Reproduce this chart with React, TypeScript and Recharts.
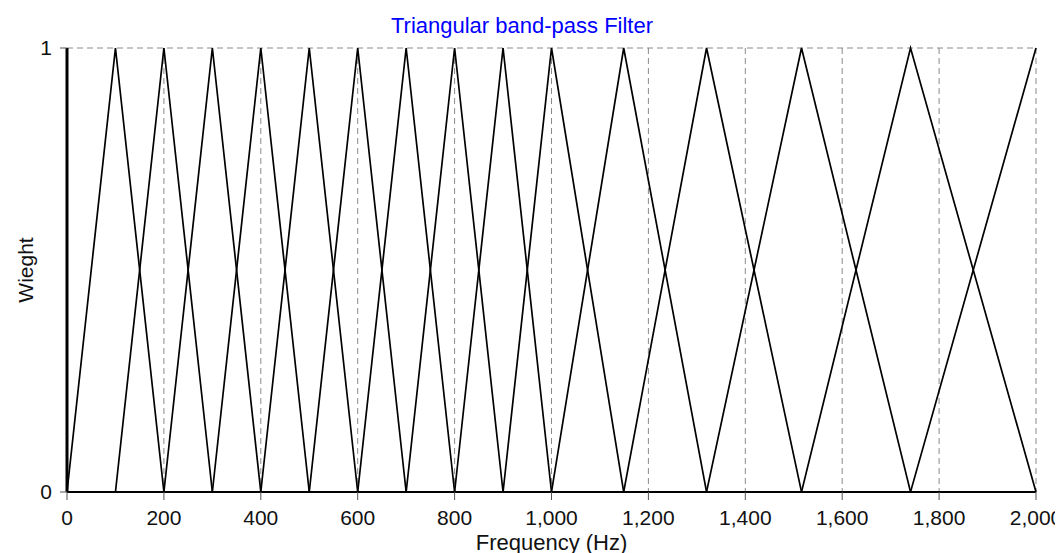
import React from "react";
import { LineChart, Line, XAxis, YAxis, CartesianGrid, Label } from "recharts";

// Filter centre frequencies (Hz); each filter is a triangle peaking at its centre
const centers: number[] = [0, 100, 200, 300, 400, 500, 600, 700, 800, 900, 1000, 1149, 1320, 1516, 1741, 2000];
// indices of centres that carry a drawn filter
const filterIdx: number[] = [1, 2, 3, 4, 5, 6, 7, 8, 9, 10, 11, 12, 13, 14, 15];
const xTicks: number[] = [0, 200, 400, 600, 800, 1000, 1200, 1400, 1600, 1800, 2000];
const yTicks: number[] = [0, 1];

const rows = centers.map((f, i) => {
  const r: Record<string, number> = { f };
  filterIdx.forEach((k) => {
    r["w" + k] = i === k ? 1 : 0;
  });
  return r;
});

const FONT = "'Liberation Sans', Arial, sans-serif";

export default function App() {
  return (
    <div style={{ position: "relative", width: 1055, height: 545, fontFamily: FONT }}>
      <div
        style={{
          position: "absolute",
          top: 5,
          left: 514 - 200,
          width: 400,
          textAlign: "center",
          color: "#0000ff",
          fontSize: 22,
          lineHeight: "25px",
          fontFamily: FONT,
        }}
      >
        Triangular band-pass Filter
      </div>
      <LineChart width={1055} height={545} data={rows} margin={{ top: 40, right: 27, bottom: 0, left: 0 }}>
        <CartesianGrid stroke="#8a8a8a" strokeDasharray="6 4" />
        <XAxis
          dataKey="f"
          type="number"
          domain={[0, 2000]}
          ticks={xTicks}
          interval={0}
          tickFormatter={(v: number) => v.toLocaleString("en-US")}
          height={61}
          tickSize={8}
          tickMargin={10}
          axisLine={{ stroke: "#000", strokeWidth: 1.5 }}
          tickLine={{ stroke: "#555" }}
          tick={{ fill: "#111", fontSize: 21, fontFamily: FONT }}
        >
          <Label
            value="Frequency (Hz)"
            position="insideBottom"
            offset={3}
            style={{ fill: "#111", fontSize: 22, fontFamily: FONT }}
          />
        </XAxis>
        <YAxis
          type="number"
          domain={[0, 1]}
          ticks={yTicks}
          interval={0}
          width={59}
          tickSize={7}
          tickMargin={8}
          axisLine={{ stroke: "#000", strokeWidth: 3 }}
          tickLine={{ stroke: "#555" }}
          tick={{ fill: "#111", fontSize: 21, fontFamily: FONT }}
        >
          <Label
            content={(props: any) => {
              const vb = props.viewBox || { x: 0, y: 40, width: 59, height: 444 };
              const cx = vb.x + 17;
              const cy = vb.y + vb.height / 2;
              return (
                <text
                  x={cx}
                  y={cy}
                  transform={`rotate(-90, ${cx}, ${cy})`}
                  textAnchor="middle"
                  dominantBaseline="central"
                  fill="#111"
                  fontSize={21}
                  fontFamily={FONT}
                >
                  Wieght
                </text>
              );
            }}
          />
        </YAxis>
        {filterIdx.map((k) => (
          <Line
            key={k}
            dataKey={"w" + k}
            type="linear"
            stroke="#000"
            strokeWidth={1.7}
            dot={false}
            activeDot={false}
            isAnimationActive={false}
          />
        ))}
      </LineChart>
    </div>
  );
}
